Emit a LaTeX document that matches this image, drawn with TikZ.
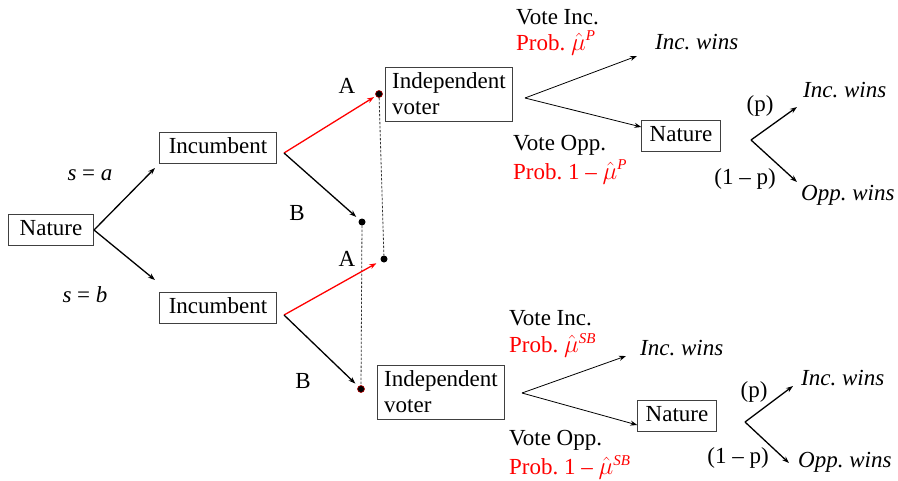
\documentclass[tikz,border=0pt]{standalone}
\usepackage{fontspec}
\setmainfont{Liberation Serif}
\usetikzlibrary{arrows.meta}
\begin{document}
\frenchspacing
\begin{tikzpicture}[x=1pt,y=-1pt,
  box/.style={draw=black!75, line width=0.8pt, inner xsep=9pt, inner ysep=5pt, text height=16pt, text depth=5pt, font=\fontsize{23}{26}\selectfont},
  vbox/.style={draw=black!75, line width=0.8pt, align=left, inner xsep=7pt, inner ysep=6pt, font=\fontsize{23}{26}\selectfont},
  lab/.style={inner sep=0pt, font=\fontsize{23}{26}\selectfont},
  ilab/.style={lab, font=\fontsize{23}{26}\selectfont\itshape},
  rlab/.style={lab, text=red},
  thick arr/.style={line width=1.3pt, -{Stealth[length=7pt,width=5pt]}},
  thin arr/.style={line width=0.8pt, -{Stealth[length=7pt,width=5pt]}},
  red arr/.style={thick arr, draw=red},
  dot/.style={circle, fill=black, inner sep=0pt, minimum size=7pt},
  rdot/.style={dot, draw=red!70!black, line width=0.6pt},
  info/.style={line width=0.8pt, black!80, dash pattern=on 2.5pt off 1.5pt}
]
\useasboundingbox (0,0) rectangle (898,480);
\newcommand{\muhat}[1]{$\hat{\mu}^{\textit{\fontsize{15}{15}\selectfont #1}}$}

% Nature root
\node[box, inner xsep=11pt] (nat) at (51,230) {Nature};
\node[box] (inca) at (218,148) {Incumbent};
\node[box] (incb) at (218,308) {Incumbent};
\coordinate (natR) at (94,230);
\draw[thick arr] (natR) -- (155,168) coordinate (ea);
\draw[thick arr] (natR) -- (155,280) coordinate (eb);
\node[lab] (sa) at (90,175) {\textit{s} = \textit{a}};
\node[lab] (sb) at (85,295) {\textit{s} = \textit{b}};

% dots
\node[rdot] (dAa) at (379,94) {};
\node[dot] (dBa) at (362,222) {};
\node[dot] (dAb) at (384,259) {};
\node[rdot] (dBb) at (361,389) {};

% information sets
\draw[info] (dAa) -- (dAb);
\draw[info] (dBa) -- (dBb);

% incumbent a
\coordinate (iaR) at (284,153);
\draw[red arr, shorten >=2pt] (iaR) -- (dAa);
\draw[thick arr, shorten >=4pt] (iaR) -- (dBa);
\node[lab] (Aa) at (347,86) {A};
\node[lab] (Ba) at (297,213) {B};

% incumbent b
\coordinate (ibR) at (284,315);
\draw[red arr, shorten >=5pt] (ibR) -- (dAb);
\draw[thick arr, shorten >=4pt] (ibR) -- (dBb);
\node[lab] (Ab) at (347,259) {A};
\node[lab] (Bb) at (303,381) {B};

% top independent voter
\node[vbox] (iva) at (449,94) {Independent\\voter};
\coordinate (vaR) at (525,98);
\coordinate (wa1) at (637,56);
\node[box, inner xsep=8pt] (na2) at (681,136) {Nature};
\draw[thin arr] (vaR) -- (wa1);
\draw[thin arr] (vaR) -- (na2.west |- 0,127);
\node[lab, anchor=west] (vi1) at (516,17) {Vote Inc.};
\node[rlab, anchor=west] (pi1) at (516,43) {Prob. \muhat{P}};
\node[ilab, anchor=west] (w1) at (655,42) {Inc. wins};
\node[lab, anchor=west] (vo1) at (513,145) {Vote Opp.};
\node[rlab, anchor=west] (po1) at (513,172) {Prob. 1 -- \muhat{P}};

\coordinate (n2R) at (751,140);
\draw[thick arr] (n2R) -- (797,107);
\draw[thick arr] (n2R) -- (797,182);
\node[lab] (p1) at (760,106) {(p)};
\node[lab] (q1) at (745,179) {(1 -- p)};
\node[ilab, anchor=west] (w2) at (803,90) {Inc. wins};
\node[ilab, anchor=west] (w3) at (801,195) {Opp. wins};

% bottom independent voter
\node[vbox] (ivb) at (441,392) {Independent\\voter};
\coordinate (vbR) at (522,393);
\node[box, inner xsep=8pt] (nb2) at (677,416) {Nature};
\draw[thin arr] (vbR) -- (626,356);
\draw[thin arr] (vbR) -- (nb2.west |- 0,425);
\node[lab, anchor=west] (vi2) at (509,318) {Vote Inc.};
\node[rlab, anchor=west] (pi2) at (509,345) {Prob. \muhat{SB}};
\node[ilab, anchor=west] (w4) at (640,348) {Inc. wins};
\node[lab, anchor=west] (vo2) at (509,440) {Vote Opp.};
\node[rlab, anchor=west] (po2) at (509,467) {Prob. 1 -- \muhat{SB}};

\coordinate (nbR) at (745,422);
\draw[thick arr] (nbR) -- (793,386);
\draw[thick arr] (nbR) -- (789,463);
\node[lab] (p2) at (754,392) {(p)};
\node[lab] (q2) at (738,458) {(1 -- p)};
\node[ilab, anchor=west] (w5) at (801,378) {Inc. wins};
\node[ilab, anchor=west] (w6) at (798,462) {Opp. wins};
\end{tikzpicture}
\end{document}
